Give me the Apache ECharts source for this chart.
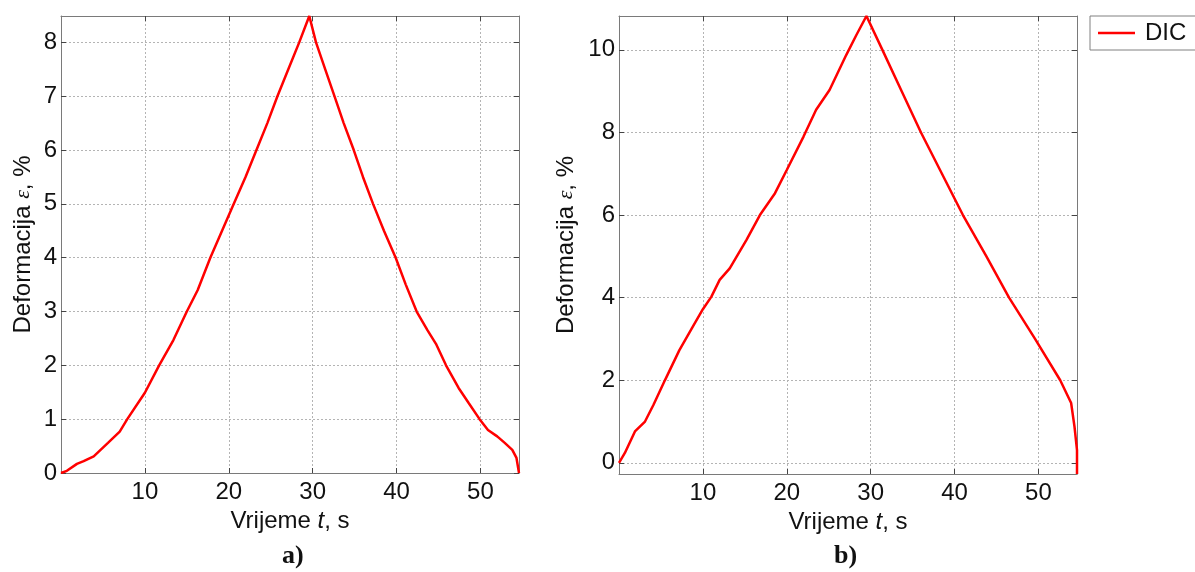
<!DOCTYPE html>
<html>
<head>
<meta charset="utf-8">
<script src="https://cdn.jsdelivr.net/npm/echarts@6/dist/echarts.min.js"></script>
<style>
html,body{margin:0;padding:0;background:#fff;}
#chart{width:1195px;height:572px;}
</style>
</head>
<body>
<div id="chart"></div>
<script>
// Plot a) time (s) and strain (%)
const timeA = [0, 0.7, 1.9, 2.7, 3.9, 5.6, 7.0, 7.9, 10.0, 11.7, 13.4, 15.0, 16.3, 17.8, 19.2, 20.6, 22.0, 23.3, 24.6, 25.8, 27.1, 28.4, 29.6,
  30.4, 31.5, 32.6, 33.7, 34.9, 36.0, 37.2, 38.5, 39.9, 41.1, 42.4, 43.7, 44.7, 45.9, 47.4, 48.6, 49.9, 50.9, 52.0, 52.9, 53.8, 54.3, 54.6];
const strainA = [0, 0.04, 0.17, 0.22, 0.31, 0.56, 0.77, 1.0, 1.49, 2.0, 2.47, 3.0, 3.40, 4.0, 4.5, 5.0, 5.5, 6.0, 6.5, 7.0, 7.5, 8.0, 8.49,
  8.0, 7.5, 7.0, 6.5, 6.0, 5.5, 5.0, 4.5, 4.0, 3.5, 3.0, 2.65, 2.4, 2.0, 1.58, 1.3, 1.0, 0.80, 0.68, 0.56, 0.43, 0.28, 0.0];
// Plot b)
const timeB = [0, 0.7, 1.9, 3.1, 4.1, 5.5, 7.2, 8.8, 10.0, 11.0, 12.0, 13.2, 15.2, 16.8, 18.6, 20.0, 22.0, 23.5, 25.1, 27.1, 28.3, 29.5,
  31.4, 33.7, 36.0, 38.5, 41.0, 43.8, 46.5, 49.6, 52.6, 53.9, 54.3, 54.6, 54.6];
const strainB = [0, 0.24, 0.76, 1.0, 1.40, 2.01, 2.73, 3.30, 3.72, 4.02, 4.43, 4.71, 5.40, 6.00, 6.53, 7.09, 7.90, 8.55, 9.03, 9.88, 10.36, 10.82,
  10.0, 9.0, 8.0, 7.0, 6.0, 5.0, 4.0, 3.0, 2.0, 1.45, 0.88, 0.31, -0.27];

const xTicks = [10, 20, 30, 40, 50];
const yTicksA = [0, 1, 2, 3, 4, 5, 6, 7, 8];
const yTicksB = [0, 2, 4, 6, 8, 10];
const xLimit = [0, 54.6];
const yLimitA = [0, 8.49];
const yLimitB = [-0.27, 10.82];
const seriesName = 'DIC';
const panelLabels = ['a)', 'b)'];

const FONT = '"Liberation Sans", Arial, sans-serif';
const AXIS_COLOR = '#7a7a7a';
const GRID_COLOR = '#b4b4b4';

function zip(a, b) { return a.map((v, i) => [v, b[i]]); }

const xName = '{a|Vrijeme }{i|t}{a|, s}';
const yName = '{a|Deformacija }{e|ε}{a|, %}';
const nameRich = {
  a: {fontFamily: FONT, fontSize: 24, color: '#111'},
  i: {fontFamily: FONT, fontSize: 24, fontStyle: 'italic', color: '#111'},
  e: {fontFamily: '"Liberation Serif", serif', fontSize: 22, fontStyle: 'italic', color: '#111'}
};

function xAxes(gridIndex) {
  return [{
    type: 'value', gridIndex, position: 'bottom', min: xLimit[0], max: xLimit[1],
    name: xName, nameLocation: 'middle', nameGap: 34, nameTextStyle: {rich: nameRich},
    axisLine: {show: true, onZero: false, lineStyle: {color: AXIS_COLOR, width: 1}},
    axisTick: {show: true, inside: true, length: 5, customValues: xTicks, lineStyle: {color: '#444'}},
    axisLabel: {show: true, customValues: xTicks, margin: 7, fontFamily: FONT, fontSize: 24, color: '#111'},
    splitLine: {show: true, lineStyle: {color: GRID_COLOR, type: [2, 2], width: 1}}
  }, {
    type: 'value', gridIndex, position: 'top', min: xLimit[0], max: xLimit[1],
    axisLine: {show: true, onZero: false, lineStyle: {color: AXIS_COLOR, width: 1}},
    axisTick: {show: true, inside: true, length: 5, customValues: xTicks, lineStyle: {color: '#444'}},
    axisLabel: {show: false}, splitLine: {show: false}
  }];
}
function yAxes(gridIndex, lim, ticks, gap) {
  return [{
    type: 'value', gridIndex, position: 'left', min: lim[0], max: lim[1],
    name: yName, nameLocation: 'middle', nameGap: gap, nameRotate: 90, nameTextStyle: {rich: nameRich},
    axisLine: {show: true, onZero: false, lineStyle: {color: AXIS_COLOR, width: 1}},
    axisTick: {show: true, inside: true, length: 5, customValues: ticks, lineStyle: {color: '#444'}},
    axisLabel: {show: true, customValues: ticks, margin: 4, fontFamily: FONT, fontSize: 24, color: '#111'},
    splitLine: {show: true, lineStyle: {color: GRID_COLOR, type: [2, 2], width: 1}}
  }, {
    type: 'value', gridIndex, position: 'right', min: lim[0], max: lim[1],
    axisLine: {show: true, onZero: false, lineStyle: {color: AXIS_COLOR, width: 1}},
    axisTick: {show: true, inside: true, length: 5, customValues: ticks, lineStyle: {color: '#444'}},
    axisLabel: {show: false}, splitLine: {show: false}
  }];
}

const chart = echarts.init(document.getElementById('chart'), null, {renderer: 'canvas'});
chart.setOption({
  animation: false,
  backgroundColor: '#fff',
  grid: [
    {left: 61, top: 16, width: 458, height: 457, containLabel: false},
    {left: 619, top: 16, width: 458, height: 458, containLabel: false}
  ],
  xAxis: [...xAxes(0), ...xAxes(1)],
  yAxis: [...yAxes(0, yLimitA, yTicksA, 26), ...yAxes(1, yLimitB, yTicksB, 41)],
  legend: {
    show: true, data: [{name: seriesName, icon: 'rect'}], left: 1090, top: 16, orient: 'horizontal',
    padding: [5, 10, 5, 8], borderColor: '#808080', borderWidth: 1, borderRadius: 0,
    backgroundColor: '#fff', itemWidth: 37, itemHeight: 2.5,
    itemStyle: {color: '#ff0000', borderWidth: 0},
    textStyle: {fontFamily: FONT, fontSize: 24, color: '#111', padding: [0, 0, 0, 5]}
  },
  series: [
    {name: seriesName, type: 'line', xAxisIndex: 0, yAxisIndex: 0, data: zip(timeA, strainA),
     symbol: 'none', smooth: false, lineStyle: {color: '#ff0000', width: 2.5}, itemStyle: {color: '#ff0000'}},
    {name: seriesName, type: 'line', xAxisIndex: 2, yAxisIndex: 2, data: zip(timeB, strainB),
     symbol: 'none', smooth: false, lineStyle: {color: '#ff0000', width: 2.5}, itemStyle: {color: '#ff0000'}}
  ],
  graphic: [
    {type: 'text', left: 282, top: 543, style: {text: panelLabels[0], font: 'bold 26px "Liberation Serif", serif', fill: '#111'}},
    {type: 'text', left: 834, top: 543, style: {text: panelLabels[1], font: 'bold 26px "Liberation Serif", serif', fill: '#111'}}
  ]
});
</script>
</body>
</html>
